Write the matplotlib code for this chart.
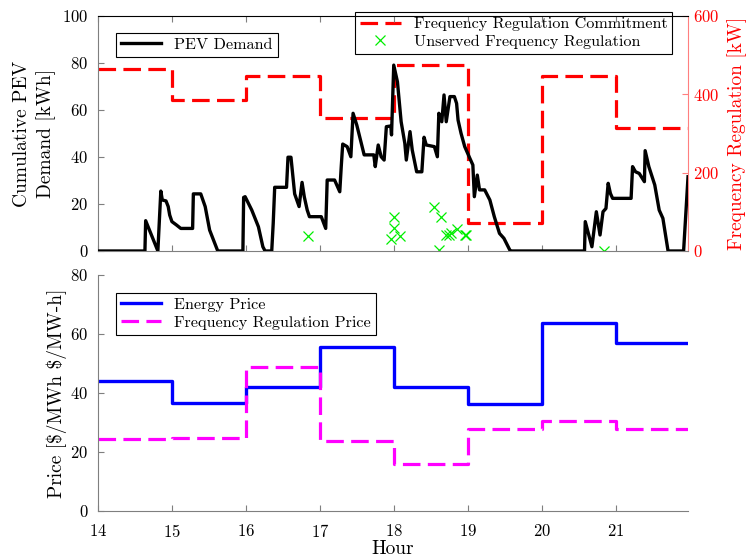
import matplotlib.pyplot as plt
import numpy as np

plt.rcParams['font.family'] = 'serif'
plt.rcParams['font.serif'] = ['cmr10']
plt.rcParams['axes.formatter.use_mathtext'] = True
plt.rcParams['mathtext.fontset'] = 'cm'

# PEV demand trace (hour, kWh)
pev_hour = [14.0, 14.635, 14.645, 14.81, 14.85, 14.87, 14.92, 14.95, 14.97, 15.0, 15.06,
            15.12, 15.28, 15.29, 15.39, 15.45, 15.51, 15.62, 15.96, 15.97, 15.99, 16.08,
            16.17, 16.23, 16.26, 16.35, 16.37, 16.39, 16.55, 16.57, 16.61, 16.66, 16.72,
            16.76, 16.79, 16.83, 16.86, 17.02, 17.08, 17.10, 17.20, 17.27, 17.29, 17.31,
            17.37, 17.42, 17.45, 17.50, 17.60, 17.73, 17.75, 17.79, 17.83, 17.87, 17.90,
            17.96, 17.97, 18.0, 18.05, 18.10, 18.15, 18.17, 18.22, 18.25, 18.31, 18.38,
            18.41, 18.44, 18.55, 18.59, 18.61, 18.65, 18.68, 18.71, 18.76, 18.82, 18.85,
            18.87, 18.91, 18.96, 19.03, 19.07, 19.09, 19.13, 19.16, 19.23, 19.30, 19.36,
            19.43, 19.49, 19.57, 19.59, 20.58, 20.59, 20.68, 20.74, 20.79, 20.83, 20.87,
            20.90, 20.93, 20.96, 21.21, 21.23, 21.27, 21.32, 21.39, 21.40, 21.45, 21.53,
            21.59, 21.64, 21.71, 21.92, 21.98]
pev_kwh = [0, 0, 12.9, 0, 25.5, 21.7, 21.3, 18.9, 15.3, 12.5, 11.1,
           9.6, 9.6, 24.3, 24.3, 18.9, 8.9, 0, 0, 22.8, 23.1, 17.4,
           10.3, 1.8, 0, 0, 11.8, 27.1, 27.1, 39.9, 39.9, 24.3, 18.9,
           29.2, 23.1, 17.4, 14.6, 14.6, 9.6, 30.2, 30.2, 25.2, 35.9, 45.5,
           44.4, 40.1, 58.6, 53.6, 40.9, 40.9, 35.9, 45.1, 40.1, 38.7, 52.9,
           53.2, 49.4, 79.1, 72.0, 55.0, 45.8, 38.7, 50.8, 43.0, 33.7, 33.7,
           48.4, 45.1, 44.4, 40.1, 58.6, 55.0, 66.4, 55.0, 65.7, 65.7, 62.8,
           55.7, 50.1, 44.4, 39.4, 36.6, 23.1, 32.3, 26.0, 26.0, 21.7, 14.6,
           7.5, 5.4, 0.4, 0, 0, 12.5, 1.8, 16.7, 6.8, 16.7, 18.1,
           28.8, 24.5, 22.4, 22.4, 35.9, 33.7, 33.0, 29.5, 42.7, 35.9, 28.1,
           17.4, 13.9, 0, 0, 31.6]

# hourly frequency regulation commitment [kW]
hours = [14, 15, 16, 17, 18, 19, 20, 21, 22]
fr_commit = [465, 385, 447, 340, 475, 72, 447, 315, 315]

# unserved frequency regulation [kW]
unserved_hour = [16.84, 17.96, 18.0, 18.01, 18.08, 18.55, 18.61, 18.64, 18.71,
                 18.75, 18.77, 18.85, 18.96, 18.98, 20.85]
unserved_kw = [39, 30, 86, 59, 37, 113, 2, 88, 40, 42, 45, 55, 42, 40, 0]

# prices
energy_price = [44.2, 36.5, 42.0, 55.5, 41.9, 36.3, 63.6, 56.8, 56.8]
fr_price = [24.5, 24.7, 48.7, 23.7, 15.9, 27.7, 30.4, 27.7, 27.7]

axis_gray = '#7f7f7f'
fig = plt.figure(figsize=(7.49, 5.59), dpi=100)

ax = fig.add_axes([0.1308, 0.551, 0.7878, 0.4204])
ax2 = ax.twinx()
ax.plot(pev_hour, pev_kwh, color='black', lw=2.4, label='PEV Demand', zorder=3)
ax2.plot(hours, fr_commit, color='red', lw=2.3, linestyle='--', dashes=(5.5, 2.3),
         drawstyle='steps-post', label='Frequency Regulation Commitment')
ax2.plot(unserved_hour, unserved_kw, linestyle='none', marker='x', color='#00ee00',
         markersize=7, markeredgewidth=0.9, label='Unserved Frequency Regulation')

ax.set_xlim(14, 21.98)
ax.set_ylim(0, 100)
ax2.set_ylim(0, 600)
ax.set_xticks(range(14, 22))
ax.set_yticks(range(0, 101, 20))
ax2.set_yticks([0, 200, 400, 600])
ax.tick_params(axis='x', which='both', direction='in', top=True, labelbottom=False,
               colors=axis_gray, length=4)
ax.tick_params(axis='y', direction='in', colors=axis_gray, labelcolor='black',
               labelsize=12, length=4, pad=7)
ax2.tick_params(axis='y', direction='in', colors='#ff7f7f', labelcolor='red',
                labelsize=12, length=4)
for s in ['left', 'bottom']:
    ax.spines[s].set_color(axis_gray)
ax.spines['top'].set_color('black')
ax2.spines['top'].set_visible(False)
ax2.spines['left'].set_visible(False)
ax2.spines['bottom'].set_visible(False)
ax2.spines['right'].set_color('#ff7f7f')
ax.spines['right'].set_visible(False)
ax.set_ylabel('Cumulative PEV\nDemand [kWh]', fontsize=14, labelpad=4, linespacing=1.35)
ax2.set_ylabel('Frequency Regulation [kW]', fontsize=14, color='red', labelpad=6)
ax.set_zorder(ax2.get_zorder() + 1)
ax.patch.set_visible(False)

leg1 = ax.legend(loc='upper left', bbox_to_anchor=(0.0305, 0.928), fontsize=11.7,
                 fancybox=False, edgecolor='black', framealpha=1, handlelength=2.5,
                 borderpad=0.3, borderaxespad=0)
leg1.get_frame().set_linewidth(0.8)
leg2 = ax2.legend(loc='upper right', bbox_to_anchor=(0.973, 1.017), fontsize=11.7,
                  fancybox=False, edgecolor='black', framealpha=1, handlelength=2.5,
                  borderpad=0.3, labelspacing=0.2, borderaxespad=0)
leg2.get_frame().set_linewidth(0.8)
leg2.set_zorder(10)

bx = fig.add_axes([0.1308, 0.0859, 0.7878, 0.4222])
bx.plot(hours, energy_price, color='blue', lw=2.4, drawstyle='steps-post',
        label='Energy Price')
bx.plot(hours, fr_price, color='magenta', lw=2.3, linestyle='--', dashes=(5.5, 2.3),
        drawstyle='steps-post', label='Frequency Regulation Price')
bx.set_xlim(14, 21.98)
bx.set_ylim(0, 80)
bx.set_xticks(range(14, 22))
bx.set_yticks(range(0, 81, 20))
bx.tick_params(direction='in', colors=axis_gray, labelcolor='black', labelsize=12, length=4)
bx.tick_params(axis='x', pad=8.5)
bx.tick_params(axis='y', pad=7)
for s in ['top', 'right']:
    bx.spines[s].set_visible(False)
for s in ['left', 'bottom']:
    bx.spines[s].set_color(axis_gray)
bx.set_ylabel(r'Price [\$/MWh \$/MW-h]', fontsize=14, labelpad=2.5)
bx.set_xlabel('Hour', fontsize=14, labelpad=0)
leg3 = bx.legend(loc='upper left', bbox_to_anchor=(0.0305, 0.924), fontsize=11.7,
                 fancybox=False, edgecolor='black', framealpha=1, handlelength=2.5,
                 borderpad=0.3, labelspacing=0.2, borderaxespad=0)
leg3.get_frame().set_linewidth(0.8)

fig.savefig('out.png', dpi=100)
